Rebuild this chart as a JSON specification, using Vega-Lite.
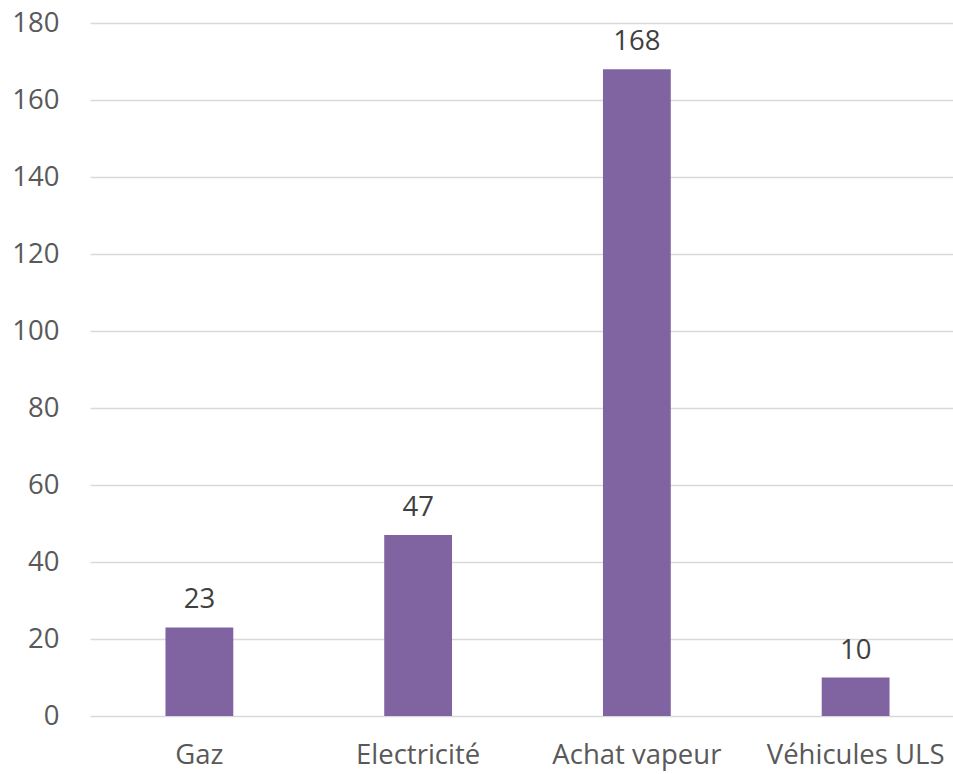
{
  "$schema": "https://vega.github.io/schema/vega-lite/v6.json",
  "autosize": "none",
  "width": 863,
  "height": 693,
  "padding": {"left": 90, "top": 23, "right": 0, "bottom": 58},
  "background": "white",
  "config": {"view": {"stroke": null}, "font": "Open Sans"},
  "data": {"values": [
    {"cat": "Gaz", "val": 23},
    {"cat": "Electricité", "val": 47},
    {"cat": "Achat vapeur", "val": 168},
    {"cat": "Véhicules ULS", "val": 10}
  ]},
  "encoding": {
    "x": {"field": "cat", "type": "nominal", "sort": null,
      "scale": {"range": [0, 875], "paddingInner": 0.69, "paddingOuter": 0.345},
      "axis": {"title": null, "domain": false, "ticks": false, "labelAngle": 0, "labelFontSize": 27.5, "labelColor": "#595959", "labelPadding": 25, "labelFont": "Open Sans"}},
    "y": {"field": "val", "type": "quantitative",
      "scale": {"domain": [0, 180], "nice": false},
      "axis": {"title": null, "values": [0,20,40,60,80,100,120,140,160,180], "domain": false, "ticks": false, "grid": true, "gridColor": "#D9D9D9", "gridWidth": 1.5, "labelFontSize": 27.5, "labelColor": "#595959", "labelPadding": 31, "labelFont": "Open Sans"}}
  },
  "layer": [
    {"mark": {"type": "bar", "color": "#8064A2"}},
    {"mark": {"type": "text", "baseline": "alphabetic", "dy": -19, "fontSize": 27.5, "color": "#404040", "font": "Open Sans"},
     "encoding": {"text": {"field": "val", "type": "quantitative"}}}
  ]
}
